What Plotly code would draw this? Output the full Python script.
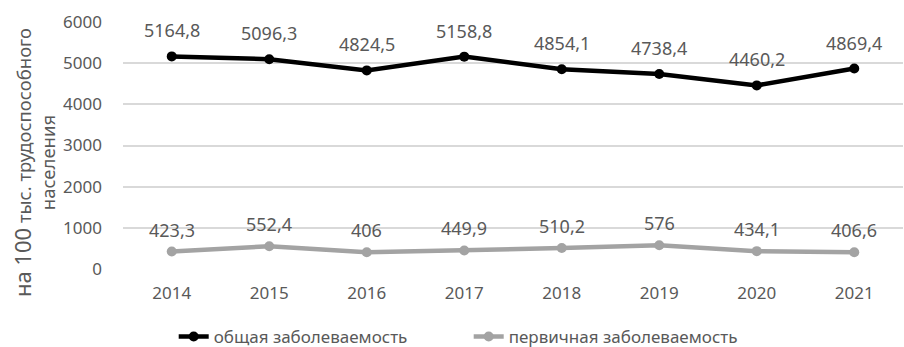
import plotly.graph_objects as go

years = ["2014", "2015", "2016", "2017", "2018", "2019", "2020", "2021"]
total = [5164.8, 5096.3, 4824.5, 5158.8, 4854.1, 4738.4, 4460.2, 4869.4]
primary = [423.3, 552.4, 406, 449.9, 510.2, 576, 434.1, 406.6]
y_ticks = [0, 1000, 2000, 3000, 4000, 5000, 6000]

def fmt(v):
    return ("%g" % v).replace(".", ",")

FONT = "Noto Sans"
TXT = "#595959"

fig = go.Figure()
fig.add_trace(go.Scatter(
    x=years, y=total, mode="lines+markers", name="общая заболеваемость",
    line=dict(color="#000000", width=4.5), marker=dict(size=10, color="#000000"),
))
fig.add_trace(go.Scatter(
    x=years, y=primary, mode="lines+markers", name="первичная заболеваемость",
    line=dict(color="#a3a3a3", width=4.5), marker=dict(size=10, color="#a3a3a3"),
))

annotations = []
for series, shift in ((total, 26), (primary, 22)):
    for i, v in enumerate(series):
        annotations.append(dict(x=i, y=v, xref="x", yref="y", text=fmt(v),
                                showarrow=False, yshift=shift,
                                font=dict(family=FONT, size=18, color=TXT)))

annotations.append(dict(
    xref="paper", yref="paper", x=-0.115, y=0.43, xanchor="center", yanchor="middle",
    textangle=-90, showarrow=False, align="center",
    text="<span style='font-size:22px'>на 100</span> тыс. трудоспособного<br>населения",
    font=dict(family=FONT, size=18.5, color=TXT)))

fig.update_layout(
    width=904, height=347,
    margin=dict(l=123, r=1, t=22, b=78, autoexpand=False),
    paper_bgcolor="white", plot_bgcolor="white",
    font=dict(family=FONT, size=17, color=TXT),
    showlegend=True,
    annotations=annotations,
    legend=dict(orientation="h", x=0.065, xanchor="left", y=-0.275, yanchor="middle",
                entrywidth=250, entrywidthmode="pixels",
                font=dict(family=FONT, size=17, color=TXT),
                traceorder="normal"),
    xaxis=dict(type="category", range=[-0.5, len(years) - 0.5], showgrid=False,
               showline=False, zeroline=False, ticks="", ticklabelstandoff=12,
               tickfont=dict(family=FONT, size=17, color=TXT)),
    yaxis=dict(range=[0, 6000], tickvals=y_ticks, showgrid=True, gridcolor="#d9d9d9",
               gridwidth=1.5, zeroline=False, showline=False, ticks="",
               ticklabelstandoff=20,
               tickfont=dict(family=FONT, size=17, color=TXT)),
)

fig.write_html("out.html")
